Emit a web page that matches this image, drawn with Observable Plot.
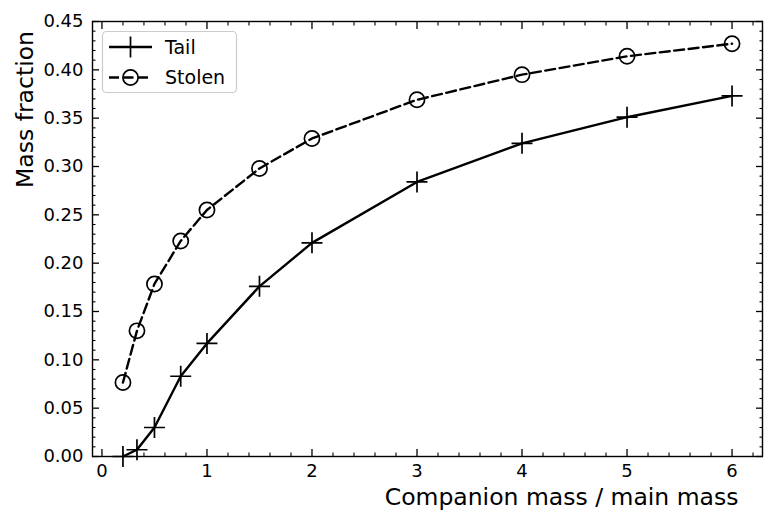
<!DOCTYPE html>
<html>
<head>
<meta charset="utf-8">
<script src="https://cdn.jsdelivr.net/npm/d3@7"></script>
<script src="https://cdn.jsdelivr.net/npm/@observablehq/plot@0.6"></script>
<style>
  html, body { margin: 0; padding: 0; background: #fff; }
  svg { font-family: "DejaVu Sans", sans-serif; }
</style>
</head>
<body>
<div id="chart"></div>
<script>
// ---- data ----
const ratio = [0.2, 1/3, 0.5, 0.75, 1, 1.5, 2, 3, 4, 5, 6];
const tail = [0.0, 0.007, 0.030, 0.083, 0.117, 0.176, 0.221, 0.284, 0.324, 0.351, 0.373];
const stolen = [0.0765, 0.130, 0.1785, 0.223, 0.255, 0.298, 0.329, 0.369, 0.395, 0.414, 0.427];
const seriesNames = ["Tail", "Stolen"];
const xMajor = [0, 1, 2, 3, 4, 5, 6];
const xMinor = d3.range(1, 32).map(i => i * 0.2).filter(v => Math.abs(v - Math.round(v)) > 1e-6);
const yMajor = [0, 0.05, 0.10, 0.15, 0.20, 0.25, 0.30, 0.35, 0.40, 0.45];
const yMinor = d3.range(1, 45).map(i => i / 100).filter(v => Math.abs(v * 20 - Math.round(v * 20)) > 1e-6);
const xLabel = "Companion mass / main mass";
const yLabel = "Mass fraction";

const tailData = ratio.map((r, i) => ({x: r, y: tail[i]}));
const stolenData = ratio.map((r, i) => ({x: r, y: stolen[i]}));

// thin plus symbol
const thinPlus = {
  draw(ctx, size) {
    const r = Math.sqrt(size / Math.PI);
    ctx.moveTo(-r, 0); ctx.lineTo(r, 0);
    ctx.moveTo(0, -r); ctx.lineTo(0, r);
  }
};

const W = 775, H = 529, mL = 92, mR = 13, mT = 21, mB = 73;
const tickFont = 18;

const majorOpts = {tickSize: -7, tickFormat: () => "", label: null, strokeWidth: 1.3};
const minorOpts = {tickSize: -3.5, tickFormat: () => "", label: null, strokeWidth: 1.1};

const svg = Plot.plot({
  width: W, height: H,
  marginLeft: mL, marginRight: mR, marginTop: mT, marginBottom: mB,
  style: {fontFamily: "DejaVu Sans, sans-serif", color: "black", background: "white"},
  x: {domain: [-0.09, 6.29]},
  y: {domain: [0, 0.45]},
  marks: [
    // ticks, inward, all four sides
    Plot.axisX(xMajor, {anchor: "bottom", ...majorOpts}),
    Plot.axisX(xMajor, {anchor: "top", ...majorOpts}),
    Plot.axisX(xMinor, {anchor: "bottom", ...minorOpts}),
    Plot.axisX(xMinor, {anchor: "top", ...minorOpts}),
    Plot.axisY(yMajor, {anchor: "left", ...majorOpts}),
    Plot.axisY(yMajor, {anchor: "right", ...majorOpts}),
    Plot.axisY(yMinor, {anchor: "left", ...minorOpts}),
    Plot.axisY(yMinor, {anchor: "right", ...minorOpts}),
    // tick labels
    Plot.axisX(xMajor, {anchor: "bottom", tickSize: 0, tickPadding: 8, fontSize: tickFont, label: null, tickFormat: d3.format("d")}),
    Plot.axisY(yMajor, {anchor: "left", tickSize: 0, tickPadding: 9, fontSize: tickFont, label: null, tickFormat: d3.format(".2f")}),
    // data
    Plot.line(tailData, {x: "x", y: "y", stroke: "black", strokeWidth: 2.4}),
    Plot.line(stolenData, {x: "x", y: "y", stroke: "black", strokeWidth: 2.4, strokeDasharray: "10,4.5"}),
    Plot.dot(tailData, {x: "x", y: "y", symbol: thinPlus, r: 10.5, stroke: "black", fill: "none", strokeWidth: 1.7}),
    Plot.dot(stolenData, {x: "x", y: "y", symbol: "circle", r: 7.6, stroke: "black", fill: "none", strokeWidth: 1.7}),
    Plot.frame({stroke: "black", strokeWidth: 1.4}),
    // axis labels
    Plot.text([xLabel], {frameAnchor: "bottom-right", text: d => d, textAnchor: "end", dx: -24, dy: 48, fontSize: 23.5, fill: "black"}),
    Plot.text([yLabel], {frameAnchor: "top-left", text: d => d, rotate: -90, textAnchor: "middle", dx: 16 - mL, dy: 109 - mT, fontSize: 23.5, fill: "black"})
  ]
});

// legend (matplotlib-style box)
const g = d3.select(svg).append("g").attr("font-family", "DejaVu Sans, sans-serif");
g.append("rect").attr("x", 102.5).attr("y", 31.5).attr("width", 134).attr("height", 61).attr("rx", 4)
  .attr("fill", "white").attr("fill-opacity", 0.8).attr("stroke", "#cccccc").attr("stroke-width", 1.2);
const rows = [
  {name: seriesNames[0], y: 47, dash: null, marker: "plus"},
  {name: seriesNames[1], y: 77.5, dash: "10,4.5", marker: "circle"}
];
for (const r of rows) {
  g.append("line").attr("x1", 109).attr("x2", 152).attr("y1", r.y).attr("y2", r.y)
    .attr("stroke", "black").attr("stroke-width", 2.4).attr("stroke-dasharray", r.dash);
  if (r.marker === "plus") {
    g.append("path").attr("d", `M${130.5 - 10.5},${r.y}H${130.5 + 10.5}M130.5,${r.y - 10.5}V${r.y + 10.5}`)
      .attr("stroke", "black").attr("stroke-width", 1.7).attr("fill", "none");
  } else {
    g.append("circle").attr("cx", 130.5).attr("cy", r.y).attr("r", 7.6)
      .attr("stroke", "black").attr("stroke-width", 1.7).attr("fill", "none");
  }
  g.append("text").attr("x", 165).attr("y", r.y).attr("dy", "0.35em").attr("font-size", 19)
    .attr("text-anchor", "start").attr("fill", "black").text(r.name);
}

document.getElementById("chart").appendChild(svg);
</script>
</body>
</html>
